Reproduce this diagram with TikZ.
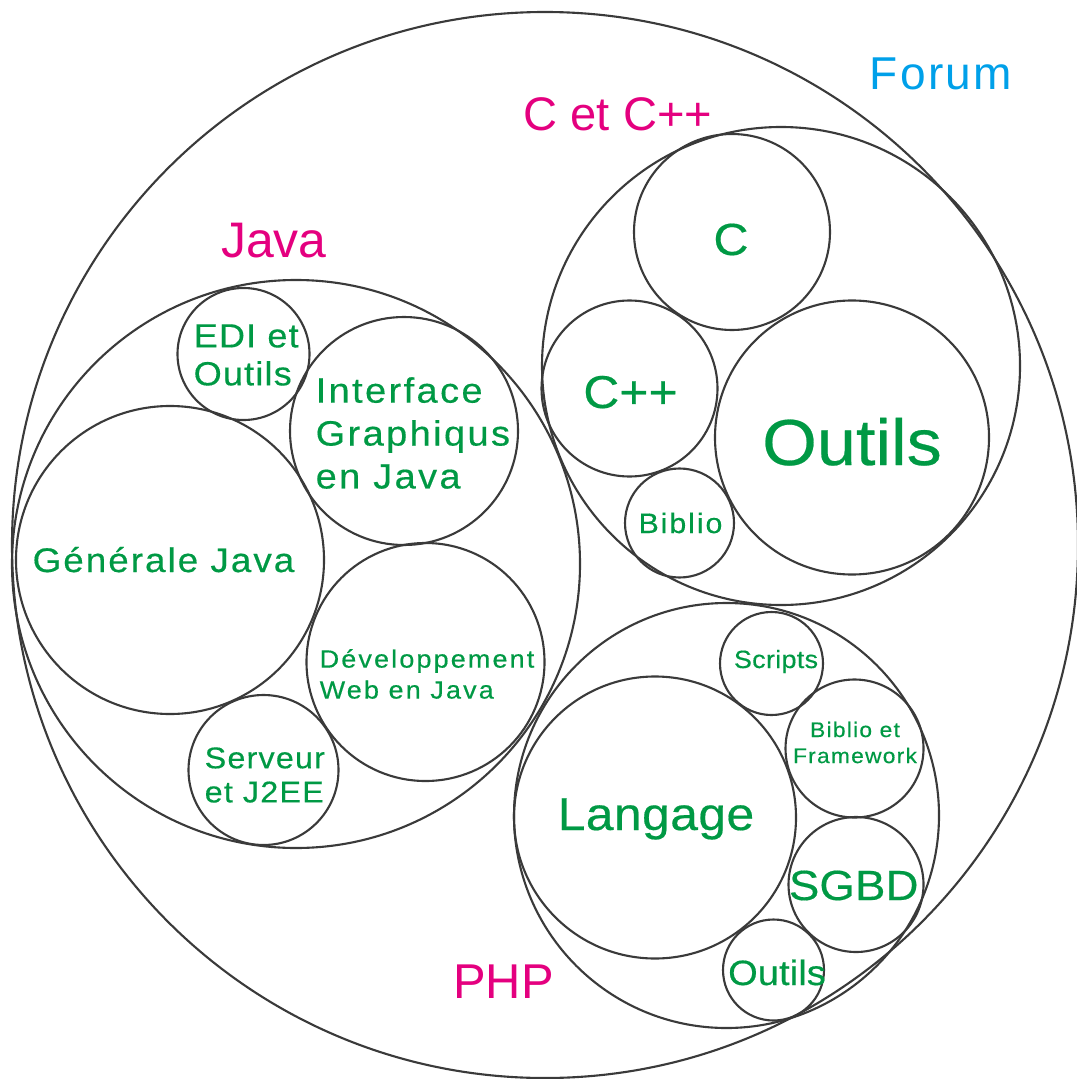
\documentclass[tikz,border=0pt]{standalone}
\usepackage{fontspec}
\setmainfont{Liberation Sans}
\definecolor{ringcol}{HTML}{3A3A3A}
\definecolor{leafcol}{HTML}{009944}
\definecolor{groupcol}{HTML}{E4007F}
\definecolor{rootcol}{HTML}{00A0E9}
% font size (pt), baseline skip (pt), letter spacing
\newcommand\lblfont[3]{\fontsize{#1pt}{#2pt}\selectfont\addfontfeature{LetterSpace=#3}}
% wider, slightly heavier face for the topic names
\newcommand\leaffont[3]{\fontsize{#1pt}{#2pt}\selectfont\addfontfeature{FakeStretch=1.08,FakeBold=0.4,LetterSpace=#3}}
\begin{document}
\begin{tikzpicture}[x=0.01cm, y=-0.01cm,
  bub/.style={circle, draw=ringcol, line width=0.6pt, inner sep=0pt, minimum size=2*#1*0.01cm},
  leaf/.style={text=leafcol, inner sep=0pt},
  grp/.style={text=groupcol, inner sep=0pt, anchor=base},
  root/.style={text=rootcol, inner sep=0pt, anchor=base}]
\useasboundingbox (0,0) rectangle (1077,1079);

% outer ring and the three groups
\node[bub=533] (forum) at (545,545) {};
\node[bub=284] (java) at (296,564) {};
\node[bub=239] (cgrp) at (781,366) {};
\node[bub=212.5] (php) at (726.5,815.5) {};

% Java
\node[bub=66] (edi) at (243.5,354) {};
\node[bub=114] (gui) at (404,431) {};
\node[bub=154] (gen) at (170,560) {};
\node[bub=119] (web) at (425.5,662) {};
\node[bub=75] (jee) at (263.5,770) {};

% C et C++
\node[bub=98] (c) at (732,232) {};
\node[bub=88] (cxx) at (629.5,388.5) {};
\node[bub=137] (coutils) at (852,437.5) {};
\node[bub=54.5] (cbib) at (679.5,523) {};

% PHP
\node[bub=51.5] (scripts) at (771.5,663.5) {};
\node[bub=69] (bibfw) at (854.5,748.5) {};
\node[bub=141] (lang) at (655,817.5) {};
\node[bub=67.5] (sgbd) at (856,884.5) {};
\node[bub=50.5] (poutils) at (773.5,970) {};

% titles
\node[root, font=\lblfont{13.1}{15}{5}] (t-forum) at (941,90) {Forum};
\node[grp, font=\lblfont{13.4}{15}{0}] (t-cgrp) at (618,131) {C et C++};
\node[grp, font=\lblfont{14.2}{16}{0}] (t-java) at (274,257) {Java};
\node[grp, font=\lblfont{13.9}{16}{0}] (t-php) at (503.5,998) {PHP};

% topic names
\node[leaf, anchor=base, font=\leaffont{12.8}{15}{0}] (t-c) at (731,255) {C};
\node[leaf, anchor=base, font=\leaffont{13.1}{15}{0.3}] (t-cxx) at (630.5,408) {C++};
\node[leaf, anchor=base, font=\leaffont{18.5}{21}{0}] (t-coutils) at (852,465) {Outils};
\node[leaf, anchor=base, font=\leaffont{8.0}{10}{6.8}] (t-cbib) at (680.5,533) {Biblio};

\node[leaf, anchor=west, align=left, font=\leaffont{9.5}{10.8}{3.5}] (t-edi) at (193,355) {EDI et\\Outils};
\node[leaf, anchor=west, align=left, font=\leaffont{10.0}{12.2}{6.8}] (t-gui) at (315,433) {Interface\\Graphiqus\\en Java};
\node[leaf, anchor=base, font=\leaffont{9.7}{11}{5.9}] (t-gen) at (163.5,572) {Générale Java};
\node[leaf, anchor=west, align=left, font=\leaffont{7.1}{8.8}{8.6}] (t-web) at (319,674) {Développement\\Web en Java};
\node[leaf, anchor=west, align=left, font=\leaffont{8.5}{9.7}{4}] (t-jee) at (204,775) {Serveur\\et J2EE};

\node[leaf, anchor=base, font=\leaffont{7.1}{8.5}{1.2}] (t-scripts) at (776,668) {Scripts};
\node[leaf, align=center, font=\leaffont{6.0}{7.4}{5.9}] (t-bibfw) at (855,742.5) {Biblio et\\Framework};
\node[leaf, anchor=base, font=\leaffont{13.1}{15}{1}] (t-lang) at (656,830) {Langage};
\node[leaf, anchor=base, font=\leaffont{12.0}{14}{0.3}] (t-sgbd) at (853.7,900) {SGBD};
\node[leaf, anchor=base, font=\leaffont{10.0}{12}{0.3}] (t-poutils) at (777,985) {Outils};
\end{tikzpicture}
\end{document}
